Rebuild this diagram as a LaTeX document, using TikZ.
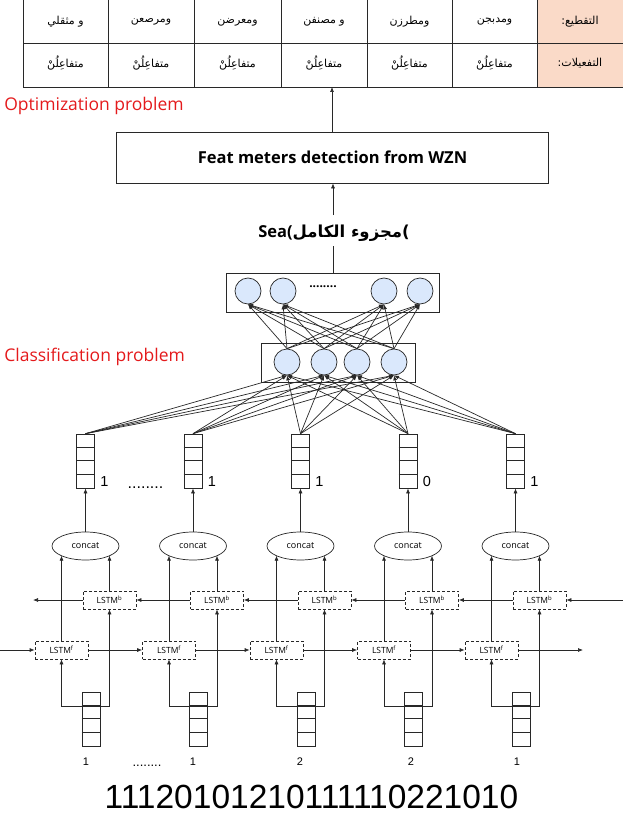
\documentclass[tikz,border=0pt]{standalone}
\usepackage{fontspec}
\setmainfont{Open Sans}
\newfontfamily\arialf{Liberation Sans}
\newfontfamily\arabicfont[Script=Arabic]{DejaVu Sans}
\TeXXeTstate=1
\usetikzlibrary{arrows.meta,shapes.geometric,calc}
\definecolor{pinkcell}{RGB}{250,218,200}
\definecolor{redtxt}{RGB}{228,26,28}
\definecolor{neuron}{RGB}{218,232,252}
\definecolor{ln}{RGB}{40,40,40}
\begin{document}
\begin{tikzpicture}[x=1pt,y=-1pt,
  every path/.style={line width=0.7pt},
  lnc/.style={draw=ln,line width=0.7pt},
  arr/.style={lnc,-{Latex[length=5pt,width=4pt]}},
  ar/.style={font=\arabicfont\fontsize{11}{13}\selectfont,inner sep=1pt},
  redt/.style={text=redtxt,font=\fontsize{17.5}{20}\selectfont,inner sep=0pt},
  mainbox/.style={lnc,rectangle,minimum width=432pt,minimum height=51pt,inner sep=0pt,font=\bfseries\fontsize{16.5}{19}\selectfont},
  nnbox/.style={lnc,rectangle,inner sep=0pt},
  neur/.style={lnc,circle,fill=neuron,minimum size=26pt,inner sep=0pt},
  vecbox/.style={lnc,rectangle,minimum width=18pt,minimum height=54pt,inner sep=0pt},
  cc/.style={lnc,ellipse,minimum width=67pt,minimum height=28pt,inner sep=0pt,font=\fontsize{9}{10}\selectfont},
  lstm/.style={lnc,dashed,dash pattern=on 3pt off 2pt,rectangle,minimum width=53pt,minimum height=18pt,inner sep=0pt,font=\fontsize{8.5}{10}\selectfont},
  lbl/.style={font=\arialf\fontsize{14.5}{16}\selectfont,inner sep=0pt},
  slbl/.style={font=\arialf\fontsize{11}{13}\selectfont,inner sep=0pt},
  dotst/.style={font=\arialf\fontsize{16}{16}\selectfont,inner sep=0pt}
]
\useasboundingbox (0,0) rectangle (623,813);

% ---------- table ----------
\fill[pinkcell] (537,0) rectangle (623,87);
\draw[lnc] (23,43) -- (623,43);
\draw[lnc] (23,87) -- (623,87);
\foreach \x in {23,108,194,281,367,452,537} \draw[lnc] (\x,0) -- (\x,87);

\node[ar] (a11) at (65.5,22) {\beginR و مثقلي\endR};
\node[ar] (a12) at (151,22) {\beginR ومرصعن\endR};
\node[ar] (a13) at (237.5,22) {\beginR ومعرضن\endR};
\node[ar] (a14) at (324,22) {\beginR و مصنفن\endR};
\node[ar] (a15) at (409.5,22) {\beginR ومطرزن\endR};
\node[ar] (a16) at (494.5,22) {\beginR ومدبجن\endR};
\node[ar] (a17) at (580,22) {\beginR التقطيع:\endR};
\node[ar] (a21) at (65.5,63) {\beginR متفاعِلُنْ\endR};
\node[ar] (a22) at (151,63) {\beginR متفاعِلُنْ\endR};
\node[ar] (a23) at (237.5,63) {\beginR متفاعِلُنْ\endR};
\node[ar] (a24) at (324,63) {\beginR متفاعِلُنْ\endR};
\node[ar] (a25) at (409.5,63) {\beginR متفاعِلُنْ\endR};
\node[ar] (a26) at (494.5,63) {\beginR متفاعِلُنْ\endR};
\node[ar] (a27) at (580,63) {\beginR التفعيلات:\endR};

% ---------- red labels ----------
\node[redt,anchor=base west] (opt) at (4,111) {Optimization problem};
\node[redt,anchor=base west] (cls) at (4,361) {Classification problem};

% ---------- main box and sea ----------
\coordinate (tabbot) at (332,87);
\node[mainbox] (feat) at (332.5,157.5) {Feat meters detection from WZN};
\draw[arr] (feat.north -| tabbot) -- (tabbot);

\node[inner sep=0pt,font=\bfseries\fontsize{16.5}{19}\selectfont] (sea) at (334,233)
  {Sea(\arabicfont\beginR مجزوء الكامل\endR)};
\coordinate (seatop) at (333,215);
\coordinate (seabot) at (333,246);
\draw[arr] (seatop) -- (seatop |- feat.south);

% ---------- NN ----------
\node[nnbox,minimum width=213pt,minimum height=39pt] (nnA) at (332.5,292.5) {};
\node[nnbox,minimum width=154pt,minimum height=39pt] (nnB) at (338,362.5) {};
\draw[lnc] (seabot) -- (seabot |- nnA.north);

\node[neur] (u1) at (248,291) {};
\node[neur] (u2) at (283,291) {};
\node[neur] (u3) at (384,291) {};
\node[neur] (u4) at (420,291) {};
\node[inner sep=0pt,font=\bfseries\fontsize{12}{12}\selectfont] (udots) at (323,287) {........};

\node[neur] (l1) at (287,362) {};
\node[neur] (l2) at (324,362) {};
\node[neur] (l3) at (357,362) {};
\node[neur] (l4) at (394,362) {};

\foreach \i in {1,...,4}
  \foreach \j in {1,...,4}
    \draw[arr] (l\i.north) -- (u\j.south);

% ---------- units ----------
\foreach \i/\cx/\lab/\blab/\bx in {1/85.5/1/1/86, 2/193/1/1/193, 3/300.5/1/2/300, 4/408/0/2/411, 5/515.5/1/1/517}{
  \node[vecbox] (v\i) at (\cx,461) {};
  \foreach \k in {1,2,3} \draw[lnc] ($(v\i.north west)+(0,\k*13.5)$) -- ++(18,0);
  \node[lbl] (n\i) at (\cx+19,482) {\lab};
  \node[cc] (c\i) at (\cx,546) {concat};
  \node[lstm] (b\i) at (\cx+24,600) {LSTM\textsuperscript{b}};
  \node[lstm] (f\i) at (\cx-24,650) {LSTM\textsuperscript{f}};
  \node[vecbox] (w\i) at (\cx+5.5,719) {};
  \foreach \k in {1,2,3} \draw[lnc] ($(w\i.north west)+(0,\k*13.5)$) -- ++(18,0);
  \node[slbl] (m\i) at (\bx,762) {\blab};
  \coordinate (j\i) at (\cx+5.5,706);
  \draw[arr] (c\i.north) -- (v\i.south);
  \draw[arr] (f\i.north) -- (f\i.north |- c\i.201);
  \draw[arr] (b\i.north) -- (b\i.north |- c\i.-21);
  \draw[arr] (j\i) -| (f\i.south);
  \draw[arr] (j\i) -| (b\i.south);
  \foreach \j in {1,...,4} \draw[arr] (v\i.north) -- (l\j.south);
}

\node[dotst,anchor=base] (tdots) at (145.5,488) {........};
\node[dotst,anchor=base,font=\arialf\fontsize{13}{13}\selectfont] (bdots) at (147,766) {........};

% horizontal LSTM arrows
\foreach \i/\k in {1/2,2/3,3/4,4/5}{
  \draw[arr] (f\i.east) -- (f\k.west);
  \draw[arr] (b\k.west) -- (b\i.east);
}
\coordinate (bl) at (33,600);
\coordinate (br) at (623,600);
\coordinate (fl) at (0,650);
\coordinate (fr) at (583,650);
\draw[arr] (b1.west) -- (bl);
\draw[arr] (br) -- (b5.east);
\draw[arr] (fl) -- (f1.west);
\draw[arr] (f5.east) -- (fr);

% big number
\node[inner sep=0pt,anchor=base,font=\arialf\fontsize{33.5}{36}\selectfont] (seq) at (311.5,808) {11120101210111110221010};
\end{tikzpicture}
\end{document}
